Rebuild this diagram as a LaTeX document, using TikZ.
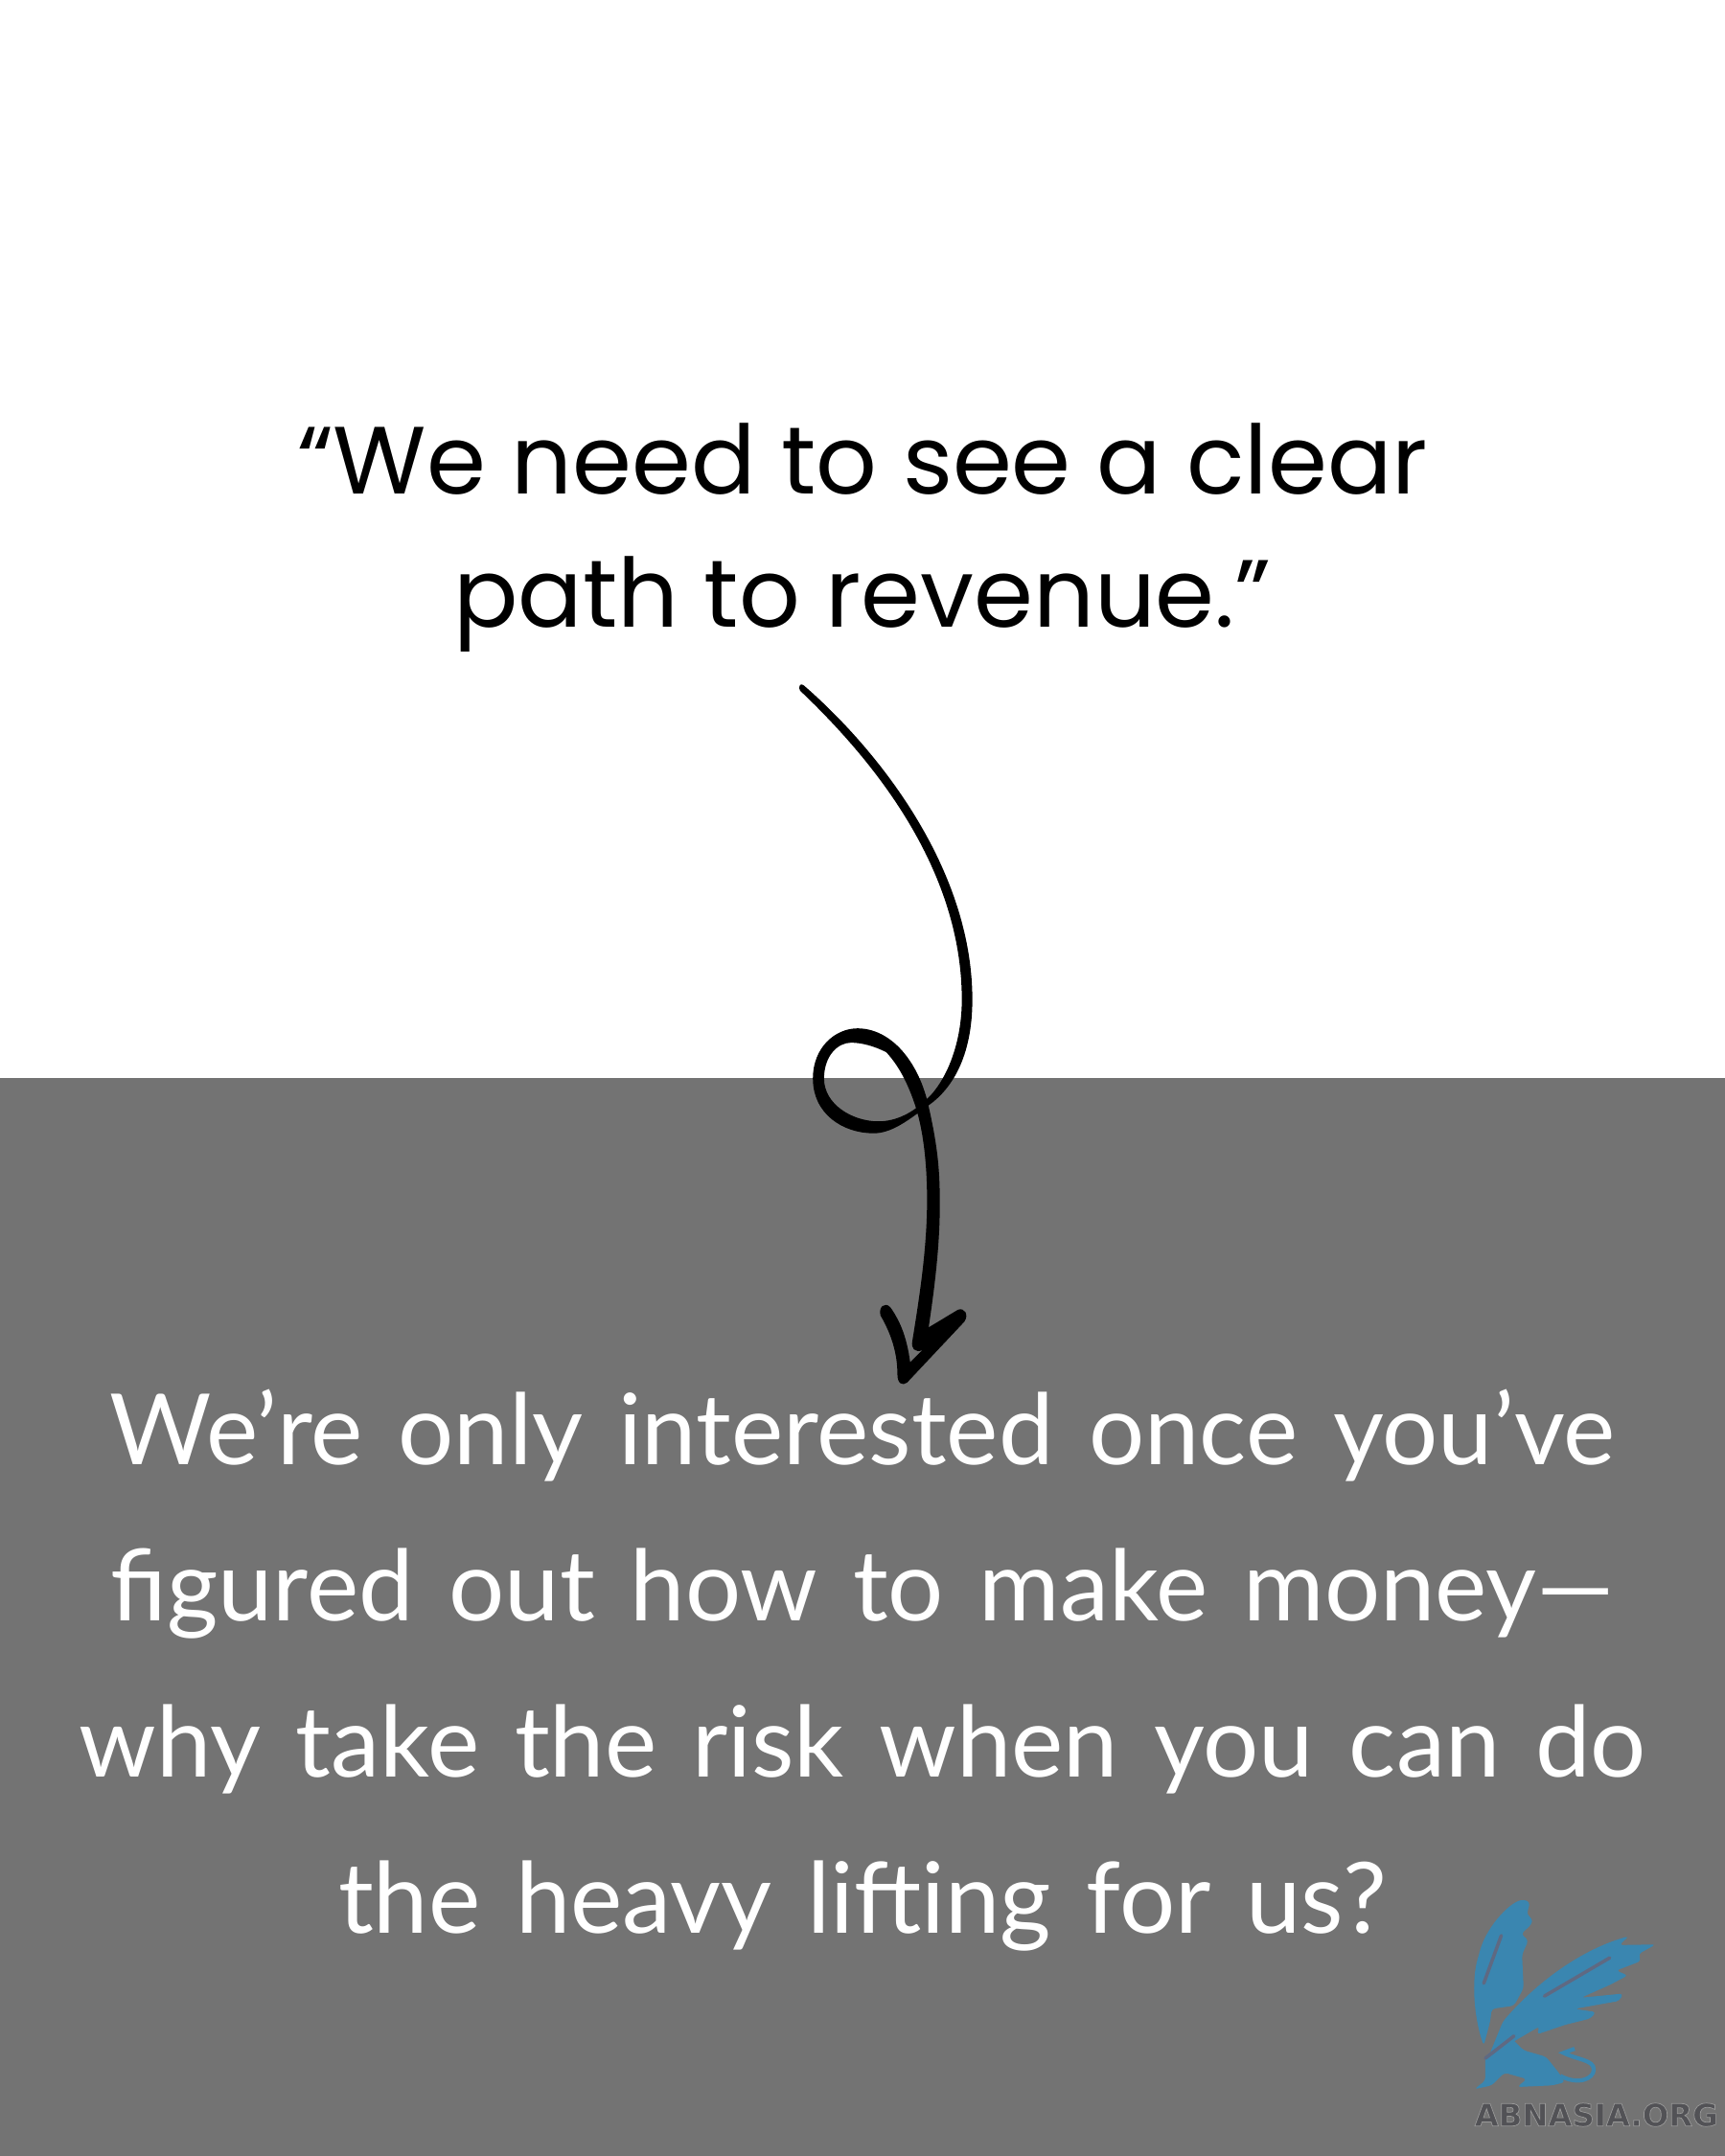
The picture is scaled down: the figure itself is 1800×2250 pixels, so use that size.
\documentclass[tikz,border=0pt]{standalone}
\usepackage{fontspec}
\setmainfont{Poppins}
\newfontfamily\handfont[WordSpace=1.4]{Lato}
\newfontfamily\logofont{DejaVu Sans}
\usepackage{xcolor}
\usetikzlibrary{positioning}
\definecolor{panelgray}{RGB}{115,115,115}
\definecolor{griffinblue}{RGB}{58,134,176}
\definecolor{griffinslash}{RGB}{95,105,130}
\definecolor{logogray}{RGB}{82,82,86}
\newcommand{\outlined}[1]{\special{pdf:code 2 Tr 0.2 w 0.6 G}#1\special{pdf:code 0 Tr}}

\begin{document}
\begin{tikzpicture}[
        x=0.01cm, y=-0.01cm,
        quote/.style={align=center, inner sep=0pt, text=black, font=\fontsize{28.36pt}{39.6pt}\selectfont},
        answer/.style={align=center, inner sep=0pt, text=white, font=\handfont\fontsize{29.2pt}{46.4pt}\selectfont},
        griffin/.style={fill=griffinblue, rounded corners=1pt},
        slash/.style={draw=griffinslash, line width=1pt, line cap=round},
    ]
        \useasboundingbox (0,0) rectangle (1800,2250);
        \fill[white] (0,0) rectangle (1800,1125);
        \fill[panelgray] (0,1125) rectangle (1800,2250);

        \node[quote] (revenue) at (900,561) {“We need to see a clear\\path to revenue.”};
        \node[answer] (lifting) at (900,1743) {We’re only interested once you’ve\\
        figured out how to make money—\\
        why take the risk when you can do\\
        the heavy lifting for us?};

        % hand drawn arrow, crop units of the loop
        \begin{scope}[shift={(780,680)}, x=0.003333cm, y=-0.004975cm]
            \coordinate (arrowtail) at (175,70);
            \fill[black] (arrowtail) .. controls (400,200) and (705,450) .. (705,730)
                .. controls (705,850) and (640,920) .. (560,955)
                .. controls (500,985) and (450,1010) .. (395,1010)
                .. controls (300,1010) and (205,970) .. (205,895)
                .. controls (205,830) and (275,790) .. (345,790)
                .. controls (450,790) and (540,860) .. (570,960)
                .. controls (600,1050) and (603,1100) .. (603,1160)
                .. controls (603,1250) and (585,1340) .. (568,1417)
                -- (660,1380) .. controls (680,1375) and (695,1390) .. (680,1405)
                -- (500,1533) .. controls (485,1540) and (470,1535) .. (470,1515)
                .. controls (470,1470) and (450,1430) .. (417,1392)
                .. controls (410,1375) and (430,1362) .. (448,1375)
                .. controls (480,1405) and (500,1440) .. (510,1490)
                -- (548,1465) .. controls (525,1470) and (512,1462) .. (517,1445)
                .. controls (540,1350) and (563,1250) .. (563,1150)
                .. controls (563,1070) and (550,1000) .. (525,950)
                .. controls (500,900) and (470,865) .. (435,840)
                .. controls (400,828) and (360,820) .. (325,820)
                .. controls (280,820) and (240,850) .. (240,895)
                .. controls (240,950) and (330,985) .. (410,985)
                .. controls (470,985) and (520,965) .. (560,940)
                .. controls (625,900) and (672,820) .. (672,730)
                .. controls (672,455) and (395,228) .. (165,82)
                .. controls (158,75) and (165,65) .. (arrowtail) -- cycle;
        \end{scope}

        % griffin mark, crop units of the corner
        \begin{scope}[shift={(1500,1950)}, x=0.003333cm, y=-0.003333cm]
            \fill[griffin] (145,555) .. controls (115,470) and (105,350) .. (130,270)
                .. controls (150,190) and (220,110) .. (270,97) -- (290,105) -- (280,145)
                -- (298,157) -- (295,175) -- (262,205) -- (285,225) -- (265,270)
                -- (270,375) -- (240,430) -- (170,440) -- (165,480) -- cycle;
            \fill[griffin] (205,480) .. controls (290,380) and (430,260) .. (600,212)
                -- (570,240) -- (684,238) -- (630,268) -- (638,290) -- (560,320)
                -- (597,335) -- (540,365) -- (450,405) -- (582,392) -- (570,415)
                -- (430,440) -- (497,450) -- (480,470) -- (400,490) -- (312,520)
                -- (320,495) -- (260,530) -- (160,590) -- cycle;
            \fill[griffin] (150,590) -- (230,530) -- (270,570) -- (340,590) -- (380,640)
                -- (400,670) -- (360,680) -- (250,685) -- (280,660) -- (210,640)
                -- (170,680) -- (115,692) -- (150,665) -- cycle;
            \draw[griffinblue, line width=1.2pt] (385,650) .. controls (440,680) and (490,660) .. (490,630)
                .. controls (490,600) and (440,600) .. (395,578) -- (430,565);
            \draw[slash] (145,360) -- (200,210);
            \draw[slash] (335,400) -- (540,280);
            \draw[slash] (150,595) -- (240,525);
        \end{scope}

        \node[inner sep=0pt, anchor=west, text=logogray, font=\logofont\bfseries\fontsize{9.2pt}{11pt}\selectfont] (abnasia) at (1538,2207) {\outlined{ABNASIA.ORG}};
    \end{tikzpicture}
\end{document}
